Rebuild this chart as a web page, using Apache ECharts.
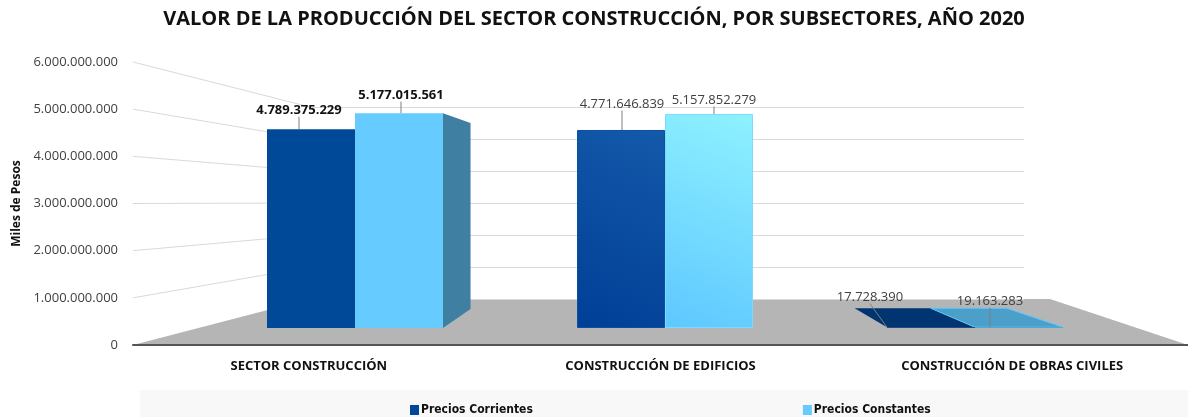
<!DOCTYPE html>
<html>
<head>
<meta charset="utf-8">
<script src="https://cdn.jsdelivr.net/npm/echarts@6/dist/echarts.min.js"></script>
<style>
  html, body { margin: 0; padding: 0; background: #fff; }
  #main { width: 1188px; height: 417px; }
</style>
</head>
<body>
<div id="main"></div>
<script>
// categorías y valores (miles de pesos)
const categorias = ['SECTOR CONSTRUCCIÓN', 'CONSTRUCCIÓN DE EDIFICIOS', 'CONSTRUCCIÓN DE OBRAS CIVILES'];
const preciosCorrientes = [4789375229, 4771646839, 17728390];
const preciosConstantes = [5177015561, 5157852279, 19163283];
const yTicks = [0, 1000000000, 2000000000, 3000000000, 4000000000, 5000000000, 6000000000];

const fontBase = '"Open Sans", "Noto Sans", sans-serif';
const ANCHO = 88;            // ancho de cada barra
const VP = [647, 187];       // punto de fuga para el efecto 3D
const PROF = 0.135;          // profundidad relativa

// 4789375229 -> 4.789.375.229
function miles(v) {
  return String(Math.round(v)).replace(/\B(?=(\d{3})+(?!\d))/g, '.');
}

function grad(c1, c2) {
  return new echarts.graphic.LinearGradient(1, 0, 0, 1, [
    { offset: 0, color: c1 },
    { offset: 1, color: c2 }
  ]);
}

// estilos por barra
const estiloCorr = [
  { color: '#004898' },
  { color: grad('#1459aa', '#003f96'), borderColor: '#0a4fa0', borderWidth: 1 },
  { color: '#003472' }
];
const estiloCons = [
  { color: '#66ccff' },
  { color: grad('#8ff2ff', '#5ec7ff'), borderColor: '#7fd8ff', borderWidth: 1 },
  { color: '#4aa0cc' }
];
// caras laterales / superiores
const caraCorr = ['#003a7c', '#003a7c', '#003571'];
const caraCons = ['#3f80a2', '#3f80a2', '#4b9fc8'];

// desplazamiento de etiquetas respecto al tope de la barra
const offCorr = [[-12, -19], [1, -26], [-61, -30]];
const offCons = [[2, -18], [5, -14], [-29, -26]];

function atras(p) {
  return [VP[0] + (p[0] - VP[0]) * (1 - PROF), VP[1] + (p[1] - VP[1]) * (1 - PROF)];
}

// dibuja las caras visibles de cada barra (efecto 3D)
function caras(esDerecha, colores) {
  return function (params, api) {
    const i = api.value(0);
    const top = api.coord([i, api.value(1)]);
    const base = api.coord([i, 0]);
    const x0 = esDerecha ? top[0] : top[0] - ANCHO;
    const x1 = x0 + ANCHO;
    const y0 = top[1], y1 = base[1];
    const hijos = [];
    const estilo = { fill: colores[i], stroke: esDerecha && i === 2 ? '#5cc8ff' : null, lineWidth: 1 };
    // cara superior
    if (y0 > VP[1]) {
      const pts = [[x0, y0], [x1, y0], atras([x1, y0]), atras([x0, y0])];
      hijos.push({ type: 'polygon', shape: { points: pts }, style: estilo });
    }
    // cara derecha
    if (esDerecha && x1 < VP[0]) {
      const pts = [[x1, y0], atras([x1, y0]), atras([x1, y1]), [x1, y1]];
      hijos.push({ type: 'polygon', shape: { points: pts }, style: { fill: colores[i] } });
    }
    // cara izquierda
    if (!esDerecha && x0 > VP[0] && y1 - y0 > 1) {
      const pts = [[x0, y0], atras([x0, y0]), atras([x0, y1]), [x0, y1]];
      hijos.push({ type: 'polygon', shape: { points: pts }, style: { fill: colores[i] } });
    }
    return { type: 'group', children: hijos };
  };
}

function etiqueta(i) {
  return i === 0
    ? { fontWeight: 'bold', color: '#111', fontSize: 13 }
    : { fontWeight: 'normal', color: '#404040', fontSize: 13 };
}

function layoutEtiqueta(offs) {
  return function (p) {
    const o = offs[p.dataIndex];
    return {
      x: p.rect.x + p.rect.width / 2 + o[0],
      y: p.rect.y + o[1],
      align: 'center',
      verticalAlign: 'middle'
    };
  };
}

function serieBarra(nombre, valores, estilos, offs, color) {
  return {
    name: nombre,
    type: 'bar',
    xAxisIndex: 1,
    yAxisIndex: 1,
    barWidth: ANCHO,
    barGap: '0%',
    z: 3,
    itemStyle: { color: color },
    labelLayout: layoutEtiqueta(offs),
    labelLine: { show: true, lineStyle: { color: '#7f7f7f', width: 1 } },
    data: valores.map((v, i) => ({
      value: v,
      itemStyle: estilos[i],
      label: Object.assign({ show: true, position: 'top', fontFamily: fontBase, formatter: p => miles(p.value) }, etiqueta(i))
    }))
  };
}

const chart = echarts.init(document.getElementById('main'));

// grid 0: ejes con etiquetas; grid 1: barras; grid 2: pared del fondo
const G0 = { left: 133, right: 0, top: 62, bottom: 72 };
const G2 = { left: 310, right: 164, top: 107, bottom: 118 };

const option = {
  backgroundColor: '#ffffff',
  animation: false,
  title: {
    text: 'VALOR DE LA PRODUCCIÓN DEL SECTOR CONSTRUCCIÓN, POR SUBSECTORES, AÑO 2020',
    left: 'center',
    top: 4,
    textStyle: { fontFamily: fontBase, fontSize: 20, fontWeight: 'bold', color: '#111' }
  },
  legend: {
    left: 405,
    top: 399,
    itemWidth: 9,
    itemHeight: 10,
    itemGap: 270,
    icon: 'rect',
    textStyle: { fontFamily: '"DejaVu Sans Condensed", "Open Sans", sans-serif', fontSize: 12, fontWeight: 'bold', color: '#111', padding: [0, 0, 0, -3] },
    data: ['Precios Corrientes', 'Precios Constantes']
  },
  grid: [
    G0,
    { left: 200, right: 58, top: 79, bottom: 89 },
    G2
  ],
  xAxis: [
    {
      type: 'category',
      gridIndex: 0,
      data: categorias,
      axisTick: { show: false },
      axisLine: { show: true, lineStyle: { color: '#555', width: 2 } },
      axisLabel: { fontFamily: fontBase, fontSize: 13, fontWeight: 'bold', color: '#111', margin: 15 },
      z: 4
    },
    { type: 'category', gridIndex: 1, data: categorias, show: false },
    { type: 'category', gridIndex: 2, data: categorias, show: false }
  ],
  yAxis: [
    {
      type: 'value',
      gridIndex: 0,
      min: yTicks[0],
      max: yTicks[yTicks.length - 1],
      interval: yTicks[1] - yTicks[0],
      name: 'Miles de Pesos',
      nameLocation: 'middle',
      nameGap: 110,
      nameTextStyle: { fontFamily: fontBase, fontSize: 12, fontWeight: 'bold', color: '#111' },
      axisLine: { show: false },
      axisTick: { show: false },
      splitLine: { show: false },
      axisLabel: { fontFamily: fontBase, fontSize: 13, color: '#404040', margin: 15, formatter: miles }
    },
    {
      type: 'value', gridIndex: 1, show: false,
      min: yTicks[0], max: yTicks[yTicks.length - 1], interval: yTicks[1] - yTicks[0]
    },
    {
      type: 'value', gridIndex: 2,
      min: yTicks[0], max: yTicks[yTicks.length - 1], interval: yTicks[1] - yTicks[0],
      axisLine: { show: false }, axisTick: { show: false }, axisLabel: { show: false },
      splitLine: { lineStyle: { color: '#d9d9d9' } }
    }
  ],
  series: [
    serieBarra('Precios Corrientes', preciosCorrientes, estiloCorr, offCorr, '#004898'),
    serieBarra('Precios Constantes', preciosConstantes, estiloCons, offCons, '#66ccff'),
    {
      type: 'custom', xAxisIndex: 1, yAxisIndex: 1, z: 2, silent: true,
      renderItem: caras(false, caraCorr),
      data: preciosCorrientes.map((v, i) => [i, v])
    },
    {
      type: 'custom', xAxisIndex: 1, yAxisIndex: 1, z: 2, silent: true,
      renderItem: caras(true, caraCons),
      data: preciosConstantes.map((v, i) => [i, v])
    }
  ]
};

chart.setOption(option);

// decoración: banda de la leyenda, piso y líneas que unen las etiquetas con la pared
const y0 = chart.convertToPixel({ yAxisIndex: 0 }, 0);
const yFondo0 = chart.convertToPixel({ yAxisIndex: 2 }, 0);
const xFondo = G2.left;
const xDer = 1188 - G2.right;
const deco = [
  { type: 'rect', left: 140, top: 390, shape: { width: 1048, height: 27 }, style: { fill: '#f8f8f8' }, z: -10 },
  {
    type: 'polygon', z: -5,
    shape: { points: [[G0.left, y0], [xFondo, yFondo0], [xDer + 26, yFondo0], [1188, y0]] },
    style: { fill: '#b5b5b5' }
  }
];
yTicks.slice(1).forEach(v => {
  deco.push({
    type: 'line', z: -6,
    shape: {
      x1: G0.left, y1: chart.convertToPixel({ yAxisIndex: 0 }, v),
      x2: xFondo, y2: chart.convertToPixel({ yAxisIndex: 2 }, v)
    },
    style: { stroke: '#d9d9d9', lineWidth: 1 }
  });
});
chart.setOption({ graphic: deco });
</script>
</body>
</html>
